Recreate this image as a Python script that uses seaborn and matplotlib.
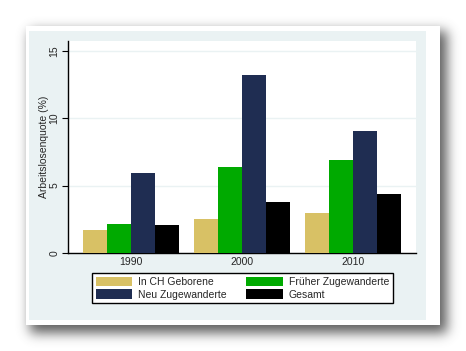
import numpy as np
import pandas as pd
import seaborn as sns
import matplotlib.pyplot as plt
from matplotlib.patches import Rectangle, Patch

# --- Daten ---
jahre = ['1990', '2000', '2010']
gruppen = ['In CH Geborene', 'Früher Zugewanderte', 'Neu Zugewanderte', 'Gesamt']
in_ch_geboren = [1.7, 2.5, 3.0]
frueher_zugew = [2.15, 6.4, 6.9]
neu_zugew = [5.95, 13.2, 9.05]
gesamt = [2.1, 3.8, 4.4]
y_ticks = [0, 5, 10, 15]

farben = ['#D8C165', '#00AA00', '#1F2D52', '#000000']
hintergrund = '#EAF2F3'

df = pd.DataFrame({
    'Jahr': jahre * 4,
    'Gruppe': [g for g in gruppen for _ in jahre],
    'Quote': in_ch_geboren + frueher_zugew + neu_zugew + gesamt,
})

sns.set_style('white')
plt.rcParams['font.family'] = ['Liberation Sans', 'DejaVu Sans']

W, H = 466, 351
fig = plt.figure(figsize=(W / 100, H / 100), dpi=100)
fig.patch.set_facecolor('white')

# --- Hintergrund: Karte mit Schatten ---
ax_bg = fig.add_axes([0, 0, 1, 1], zorder=0)
ax_bg.set_xlim(0, W)
ax_bg.set_ylim(H, 0)
ax_bg.axis('off')

yy, xx = np.mgrid[0:H, 0:W]
maske = ((xx >= 30) & (xx <= 446) & (yy >= 31) & (yy <= 332)).astype(float)
sigma = 6
k = np.arange(-3 * sigma, 3 * sigma + 1)
kern = np.exp(-k ** 2 / (2 * sigma ** 2))
kern /= kern.sum()
maske = np.apply_along_axis(lambda r: np.convolve(r, kern, mode='same'), 1, maske)
maske = np.apply_along_axis(lambda c: np.convolve(c, kern, mode='same'), 0, maske)
schatten = np.ones((H, W, 4))
schatten[..., :3] = 0.3
schatten[..., 3] = maske * 0.9
ax_bg.imshow(schatten, extent=(0, W, H, 0), interpolation='bilinear', zorder=1)

ax_bg.add_patch(Rectangle((26, 26), 414, 299, facecolor='white', edgecolor='none', zorder=2))
ax_bg.add_patch(Rectangle((29, 31), 397, 289, facecolor=hintergrund, edgecolor='none', zorder=3))

# --- Diagramm ---
ax = fig.add_axes([68 / W, 1 - 253 / H, 348 / W, 212 / H], zorder=2)
ax.set_facecolor('white')
sns.barplot(data=df, x='Jahr', y='Quote', hue='Gruppe', hue_order=gruppen,
            palette=farben, saturation=1, width=0.865, gap=0, errorbar=None,
            linewidth=0, legend=False, ax=ax, zorder=3)

ax.set_xlim(-0.568, 2.568)
ax.set_ylim(0, 15.73)
ax.set_yticks(y_ticks)
ax.set_yticklabels([str(t) for t in y_ticks], rotation=90, va='center', fontsize=7.5)
ax.tick_params(axis='y', length=4, width=0.8, color='black', pad=2, left=True)
ax.tick_params(axis='x', length=0, pad=3, labelsize=7.5)
ax.grid(axis='y', color=hintergrund, linewidth=1)
ax.set_axisbelow(True)
for s in ['top', 'right']:
    ax.spines[s].set_visible(False)
for s in ['left', 'bottom']:
    ax.spines[s].set_color('black')
    ax.spines[s].set_linewidth(1)
ax.set_xlabel('')
ax.set_ylabel('Arbeitslosenquote (%)', fontsize=7.5, labelpad=0.5)

# --- Legende (zeilenweise wie im Original) ---
reihenfolge = [0, 2, 1, 3]
handles = [Patch(facecolor=farben[i], edgecolor='none') for i in reihenfolge]
labels = [gruppen[i] for i in reihenfolge]
leg = fig.legend(handles, labels, ncol=2, loc='upper left',
                 bbox_to_anchor=(92 / W, 1 - 306 / H, 301 / W, 33 / H), mode='expand',
                 fontsize=7.5, handlelength=3.5, handleheight=1.0, handletextpad=0.6,
                 columnspacing=1.2, labelspacing=0.25, borderpad=0.35,
                 fancybox=False, frameon=True, framealpha=1, borderaxespad=0)
leg.get_frame().set_edgecolor('black')
leg.get_frame().set_linewidth(1)
leg.get_frame().set_facecolor('white')
leg.set_zorder(5)

plt.savefig('out.png', dpi=100)
